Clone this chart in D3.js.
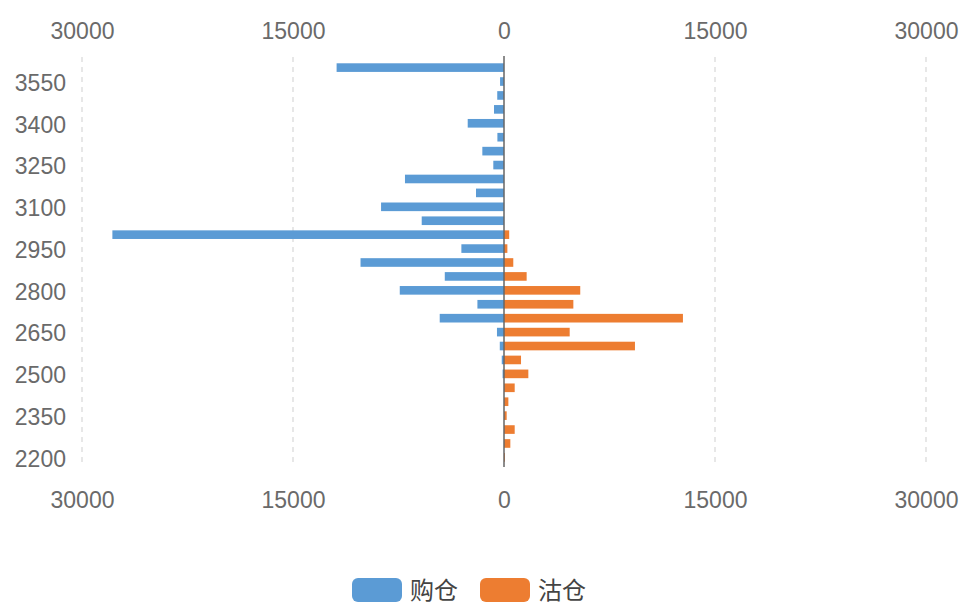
<!DOCTYPE html>
<html>
<head>
<meta charset="utf-8">
<script src="https://cdn.jsdelivr.net/npm/d3@7"></script>
<style>
  body { margin: 0; background: #fff; }
  svg text { font-family: "Liberation Sans", Arial, sans-serif; }
</style>
</head>
<body>
<svg width="964" height="605"></svg>
<script>
// price levels, top to bottom
const levels = [3600, 3550, 3500, 3450, 3400, 3350, 3300, 3250, 3200, 3150, 3100, 3050, 3000, 2950,
  2900, 2850, 2800, 2750, 2700, 2650, 2600, 2550, 2500, 2450, 2400, 2350, 2300, 2250, 2200];

// 购仓 (drawn to the left)
const buyValues = [11900, 280, 480, 710, 2580, 470, 1540, 760, 7040, 1990, 8740, 5850, 27840, 3030,
  10200, 4210, 7410, 1890, 4570, 500, 300, 160, 100, 0, 0, 0, 0, 0, 0];

// 沽仓 (drawn to the right)
const sellValues = [0, 0, 0, 0, 0, 0, 0, 0, 0, 0, 0, 0, 370, 240,
  660, 1610, 5420, 4930, 12720, 4670, 9310, 1210, 1730, 760, 310, 190, 760, 450, 70];

const xTicks = [-30000, -15000, 0, 15000, 30000];
const yTickLabels = [3550, 3400, 3250, 3100, 2950, 2800, 2650, 2500, 2350, 2200];

const series = [
  { name: "购仓", color: "#5b9bd5" },
  { name: "沽仓", color: "#ed7d31" }
];

const svg = d3.select("svg");
const plotLeft = 82, plotRight = 926, plotTop = 57, plotBottom = 467;

const x = d3.scaleLinear().domain([-30000, 30000]).range([plotLeft, plotRight]);
const y = d3.scaleBand().domain(levels).range([plotTop + 1, plotBottom]).padding(0.38);

// dashed grid lines
svg.append("g")
  .selectAll("line")
  .data(xTicks.filter(d => d !== 0))
  .join("line")
  .attr("x1", d => x(d)).attr("x2", d => x(d))
  .attr("y1", plotTop).attr("y2", plotBottom)
  .attr("stroke", "#cfcfcf")
  .attr("stroke-dasharray", "5,5");

// axes
const fmt = d => Math.abs(d);
const styleAxis = g => {
  g.select(".domain").remove();
  g.selectAll("text").attr("fill", "#6a6a6a").style("font-size", "23px");
};

svg.append("g")
  .attr("transform", `translate(0,${plotTop - 18})`)
  .call(d3.axisTop(x).tickValues(xTicks).tickFormat(fmt).tickSize(0).tickPadding(0))
  .call(styleAxis);

svg.append("g")
  .attr("transform", `translate(0,${plotBottom + 25})`)
  .call(d3.axisBottom(x).tickValues(xTicks).tickFormat(fmt).tickSize(0).tickPadding(0))
  .call(styleAxis);

svg.append("g")
  .attr("transform", `translate(${plotLeft - 16},2)`)
  .call(d3.axisLeft(y).tickValues(yTickLabels).tickSize(0).tickPadding(0))
  .call(styleAxis);

// bars
svg.append("g")
  .selectAll("rect")
  .data(levels.map((l, i) => ({ l, v: buyValues[i] })))
  .join("rect")
  .attr("x", d => x(-d.v))
  .attr("y", d => y(d.l))
  .attr("width", d => x(0) - x(-d.v))
  .attr("height", y.bandwidth())
  .attr("fill", series[0].color);

svg.append("g")
  .selectAll("rect")
  .data(levels.map((l, i) => ({ l, v: sellValues[i] })))
  .join("rect")
  .attr("x", x(0))
  .attr("y", d => y(d.l))
  .attr("width", d => x(d.v) - x(0))
  .attr("height", y.bandwidth())
  .attr("fill", series[1].color);

// zero line
svg.append("line")
  .attr("x1", x(0)).attr("x2", x(0))
  .attr("y1", plotTop - 1).attr("y2", plotBottom)
  .attr("stroke", "#666")
  .attr("stroke-width", 1.5);

// legend
const legend = svg.append("g").attr("transform", "translate(352,578)");
const item = legend.selectAll("g")
  .data(series)
  .join("g")
  .attr("transform", (d, i) => `translate(${i * 128},0)`);
item.append("rect")
  .attr("width", 50).attr("height", 24).attr("rx", 6)
  .attr("fill", d => d.color);
item.append("text")
  .attr("x", 58).attr("y", 12)
  .attr("dy", "0.36em")
  .attr("fill", "#444")
  .style("font-size", "24px")
  .style("font-family", "'Noto Sans CJK SC', sans-serif")
  .text(d => d.name);
</script>
</body>
</html>
